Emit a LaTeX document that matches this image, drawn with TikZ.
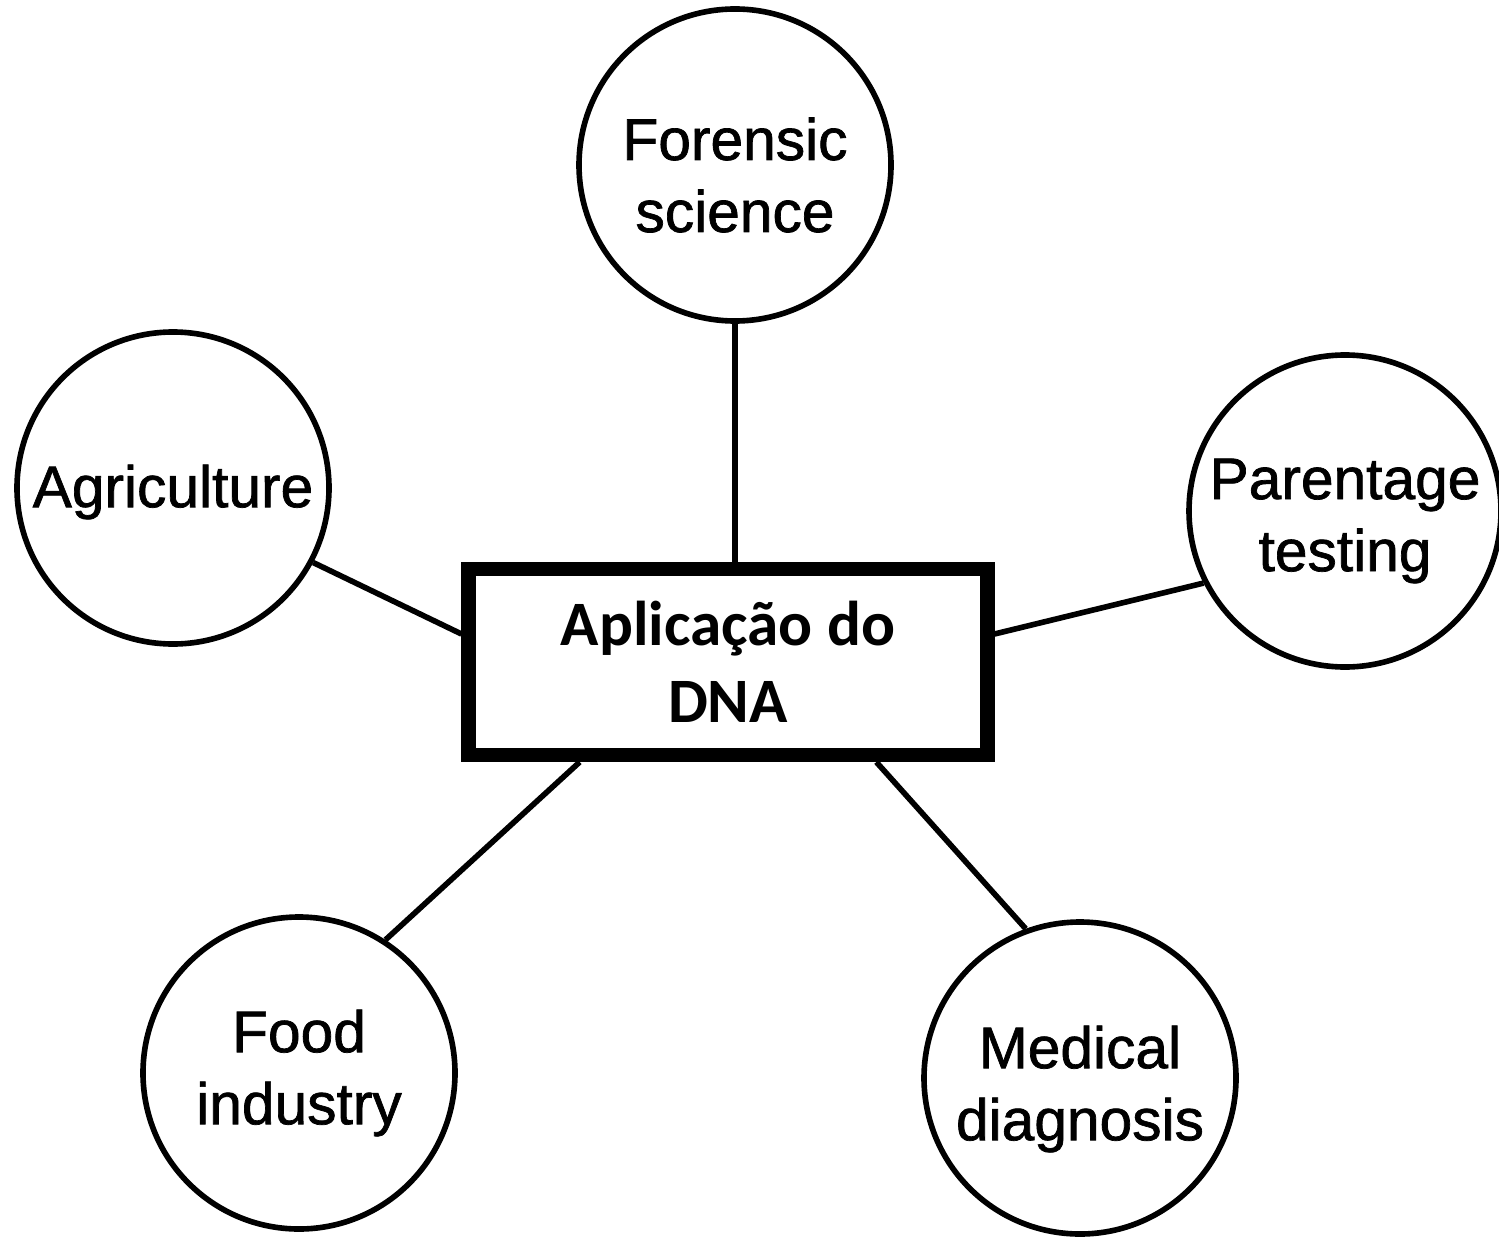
\documentclass[tikz,border=0pt]{standalone}
\usepackage{fontspec}
\setmainfont{Liberation Sans}
\newfontfamily\circfont[FakeBold=1.2]{Liberation Sans}
\newfontfamily\hubfont{Carlito}
\usepackage{tikz}
\usetikzlibrary{positioning}
\tikzset{use/.style = {draw, circle, line width = 1.6pt, inner sep = 0,
                       minimum size = 3.12cm}}
\tikzset{txt/.style = {align = center, inner sep = 0,
                       font = \circfont\fontsize{16.7}{20.5}\selectfont}}
\tikzset{hub/.style = {draw, rectangle, line width = 4pt, inner sep = 0,
                       minimum width = 5.19cm, minimum height = 1.86cm, align = center,
                       font = \hubfont\bfseries\fontsize{18}{22}\selectfont}}
\tikzset{link/.style = {line width = 1.6pt}}

\begin{document}
\begin{tikzpicture}
      \useasboundingbox (0, 0) rectangle (14.99, -12.36);

      \node [hub] (dna) at (7.28, -6.62) {Aplicação do\\DNA};

      \node [use, label={[txt, yshift=-1mm]center:Forensic\\science}] (forensic) at (7.35, -1.65) {};
      \node [use, label={[txt, yshift=-0.4mm]center:Agriculture}] (agri) at (1.73, -4.88) {};
      \node [use, label={[txt, yshift=-1mm]center:Parentage\\testing}] (parent) at (13.45, -5.11) {};
      \node [use, label={[txt]center:Food\\industry}] (food) at (2.99, -10.73) {};
      \node [use, label={[txt, yshift=-1.1mm]center:Medical\\diagnosis}] (medical) at (10.8, -10.78) {};

      \draw [link] (forensic) -- (forensic |- dna.north);
      \draw [link] (agri.-28) -- (dna.174);
      \draw [link] (parent.207) -- (dna.6);
      \draw [link] (food.57) -- (dna.214);
      \draw [link] (medical.110) -- (dna.-34);
    \end{tikzpicture}
\end{document}
